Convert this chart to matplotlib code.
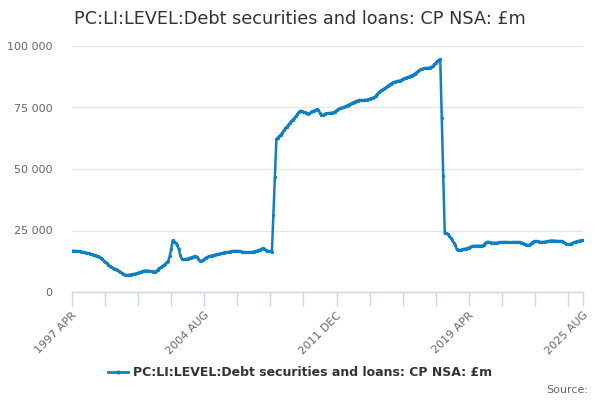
import matplotlib
matplotlib.use("Agg")
import matplotlib.pyplot as plt
from matplotlib.lines import Line2D

title = "PC:LI:LEVEL:Debt securities and loans: CP NSA: £m"
series_name = "PC:LI:LEVEL:Debt securities and loans: CP NSA: £m"
start_year, start_month = 1997, 4

# Monthly values in £ thousand million (k of £m), from Apr 1997 to Aug 2025
values_k = [
    16.8, 16.7, 16.7, 16.6, 16.5, 16.5, 16.4, 16.3, 16.2, 16.0, 15.9, 15.7,
    15.5, 15.4, 15.2, 15.0, 14.8, 14.6, 14.4, 14.0, 13.4, 12.8, 12.2, 11.6,
    11.0, 10.6, 10.2, 9.8, 9.5, 9.2, 8.9, 8.5, 8.1, 7.7, 7.3, 7.0,
    6.9, 6.9, 7.0, 7.1, 7.2, 7.3, 7.4, 7.6, 7.8, 8.0, 8.2, 8.5,
    8.6, 8.7, 8.7, 8.6, 8.5, 8.4, 8.3, 8.3, 8.5, 9.0, 9.6, 10.0,
    10.4, 10.9, 11.4, 12.0, 12.5, 14.5, 17.5, 21.0, 20.5, 20.0, 19.0, 17.5,
    15.0, 13.5, 13.3, 13.3, 13.4, 13.5, 13.8, 14.0, 14.2, 14.4, 14.6, 14.3,
    13.5, 12.8, 12.5, 13.0, 13.5, 13.9, 14.2, 14.5, 14.7, 14.8, 15.0, 15.1,
    15.3, 15.4, 15.5, 15.7, 15.8, 16.0, 16.1, 16.2, 16.3, 16.4, 16.5, 16.6,
    16.7, 16.7, 16.7, 16.6, 16.5, 16.4, 16.3, 16.2, 16.1, 16.1, 16.1, 16.2,
    16.3, 16.4, 16.6, 16.7, 16.9, 17.2, 17.5, 17.8, 17.5, 17.0, 16.7, 16.6,
    16.5, 16.4, 31.3, 46.7, 62.2, 62.8, 63.3, 64.0, 64.8, 65.7, 66.5, 67.2,
    68.0, 68.8, 69.5, 70.1, 70.8, 71.5, 72.3, 73.2, 73.7, 73.5, 73.2, 73.0,
    72.7, 72.5, 72.6, 73.0, 73.4, 73.7, 73.9, 74.2, 73.8, 72.8, 71.8, 72.0,
    72.3, 72.6, 72.6, 72.7, 72.8, 72.9, 73.0, 73.3, 73.8, 74.2, 74.6, 74.8,
    75.0, 75.2, 75.5, 75.8, 76.1, 76.4, 76.7, 77.0, 77.3, 77.6, 77.8, 78.0,
    78.0, 78.0, 78.0, 78.1, 78.1, 78.3, 78.5, 78.7, 78.9, 79.1, 79.6, 80.4,
    81.1, 81.6, 82.0, 82.4, 82.8, 83.2, 83.7, 84.2, 84.6, 85.0, 85.3, 85.5,
    85.7, 85.8, 85.9, 86.2, 86.5, 86.8, 87.0, 87.2, 87.5, 87.8, 88.0, 88.3,
    88.7, 89.2, 89.7, 90.1, 90.5, 90.7, 90.9, 91.0, 91.1, 91.1, 91.2, 91.4,
    91.8, 92.5, 93.2, 93.8, 94.3, 94.6, 70.9, 47.3, 23.8, 23.8, 23.7, 22.9,
    22.0, 21.0, 20.0, 19.0, 17.3, 16.9, 17.0, 17.2, 17.4, 17.5, 17.6, 17.8,
    18.0, 18.3, 18.5, 18.7, 18.8, 18.8, 18.8, 18.8, 18.8, 18.8, 19.2, 19.8,
    20.3, 20.4, 20.2, 20.0, 20.0, 20.0, 20.0, 20.1, 20.2, 20.3, 20.3, 20.3,
    20.3, 20.3, 20.3, 20.2, 20.2, 20.3, 20.3, 20.3, 20.3, 20.3, 20.2, 20.0,
    19.8, 19.6, 19.3, 19.1, 19.0, 19.4, 20.0, 20.5, 20.7, 20.7, 20.6, 20.4,
    20.3, 20.3, 20.4, 20.5, 20.6, 20.7, 20.8, 20.9, 20.9, 20.8, 20.8, 20.7,
    20.7, 20.7, 20.7, 20.4, 19.9, 19.5, 19.4, 19.4, 19.6, 19.9, 20.2, 20.4,
    20.6, 20.8, 20.9, 21.0, 21.0,
]
values = [v * 1000 for v in values_k]

month_names = ["JAN", "FEB", "MAR", "APR", "MAY", "JUN", "JUL", "AUG",
               "SEP", "OCT", "NOV", "DEC"]
labels = []
for i in range(len(values)):
    mi = start_month - 1 + i
    labels.append(f"{start_year + mi // 12} {month_names[mi % 12]}")

y_ticks = [0, 25000, 50000, 75000, 100000]
y_tick_labels = ["0", "25 000", "50 000", "75 000", "100 000"]

n = len(values)
x = list(range(n))
minor_ticks = list(range(0, n, 22)) + [n - 1]
major_ticks = [0, 88, 176, 264, n - 1]

line_color = "#0f7ec2"
axis_color = "#ccd6eb"
grid_color = "#e6e6e6"
text_color = "#666666"

fig = plt.figure(figsize=(6, 4), dpi=100)
ax = fig.add_axes([0.12, 0.27, 0.8517, 0.615])

ax.plot(x, values, color=line_color, linewidth=1.8, marker="o",
        markersize=2.4, markeredgewidth=0, solid_joinstyle="round")

ax.set_xlim(0, n - 1)
ax.set_ylim(0, 100000)
ax.set_yticks(y_ticks)
ax.set_yticklabels(y_tick_labels, color=text_color, fontsize=8)
ax.yaxis.grid(True, color=grid_color, linewidth=1)
ax.set_axisbelow(True)

ax.set_xticks(minor_ticks, minor=True)
ax.set_xticks(major_ticks)
ax.set_xticklabels([labels[i] for i in major_ticks], rotation=45,
                   ha="right", va="top", rotation_mode="anchor",
                   color=text_color, fontsize=8)
ax.tick_params(axis="x", which="both", length=10, color=axis_color,
               width=1, pad=3)
ax.tick_params(axis="y", length=0, pad=14)

for s in ["top", "right", "left"]:
    ax.spines[s].set_visible(False)
ax.spines["bottom"].set_color(axis_color)
ax.spines["bottom"].set_linewidth(1)

fig.text(0.5, 0.953, title, ha="center", va="center", fontsize=12.7,
         color="#333333")

handle = Line2D([], [], color=line_color, linewidth=2, marker="o",
                markersize=3, markeredgewidth=0)
fig.legend([handle], [series_name], loc="center", bbox_to_anchor=(0.5, 0.068),
           frameon=False, handlelength=1.6, handletextpad=0.4,
           prop={"weight": "bold", "size": 9})
leg = fig.legends[0]
for t in leg.get_texts():
    t.set_color("#333333")

fig.text(0.98, 0.025, "Source:", ha="right", va="center", fontsize=8,
         color=text_color)

fig.savefig("out.png", dpi=100)
